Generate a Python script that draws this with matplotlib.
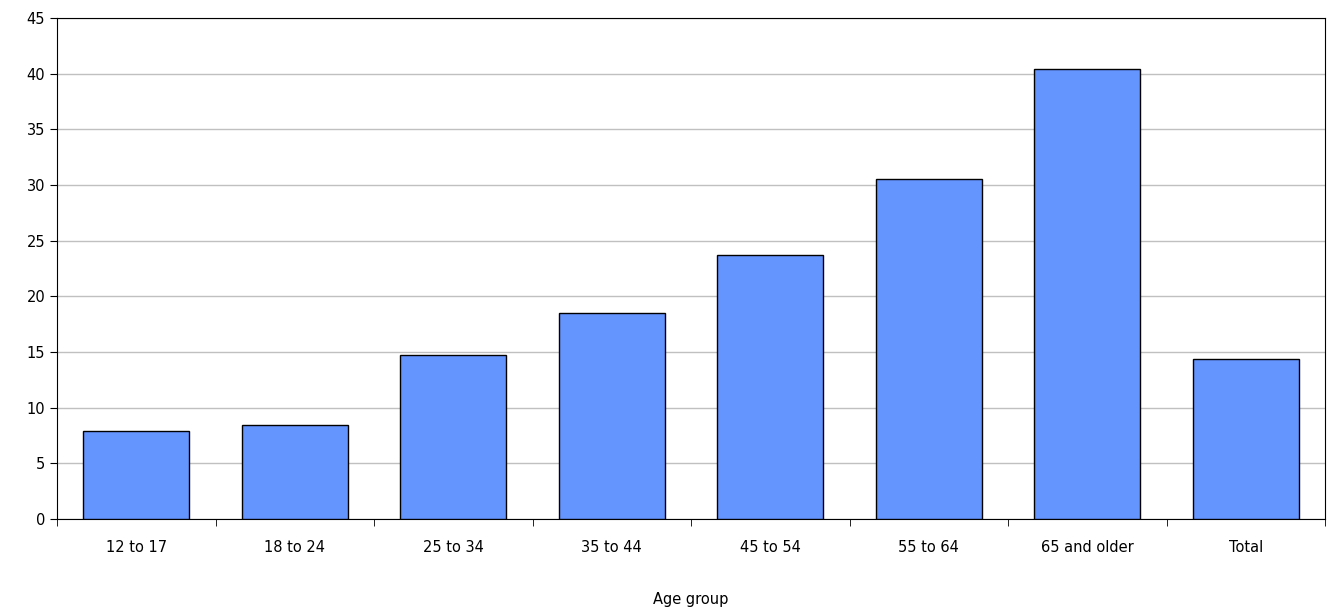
import matplotlib
matplotlib.use("Agg")
import matplotlib.pyplot as plt
import numpy as np

plt.rcParams["font.family"] = ["DejaVu Sans"]

categories = ["12 to 17", "18 to 24", "25 to 34", "35 to 44", "45 to 54", "55 to 64", "65 and older", "Total"]
values = [7.9, 8.4, 14.7, 18.5, 23.7, 30.5, 40.4, 14.4]

fig = plt.figure(figsize=(13.28, 6.10), dpi=100)
ax = fig.add_axes([57/1328, 1-519/610, (1325-57)/1328, (519-18)/610])
x = np.arange(len(categories))
ax.bar(x, values, width=0.67, color="#6495FF", edgecolor="black", linewidth=1, zorder=3)
ax.set_xlim(-0.5, len(categories)-0.5)
ax.set_ylim(0, 45)
ax.set_yticks(np.arange(0, 46, 5))
ax.yaxis.grid(True, color="#c0c0c0", linewidth=1, zorder=0)
ax.set_xticks(x)
ax.set_xticklabels(categories, fontsize=10.5)
ax.tick_params(axis="x", length=0, pad=15)
ax.set_xticks(np.arange(-0.5, len(categories)), minor=True)
ax.tick_params(axis="x", which="minor", length=5, direction="out")
ax.tick_params(axis="y", labelsize=10.5, length=5, direction="out")
ax.set_xlabel("Age group", fontsize=10.5, labelpad=27)
fig.savefig("out.png", dpi=100)
